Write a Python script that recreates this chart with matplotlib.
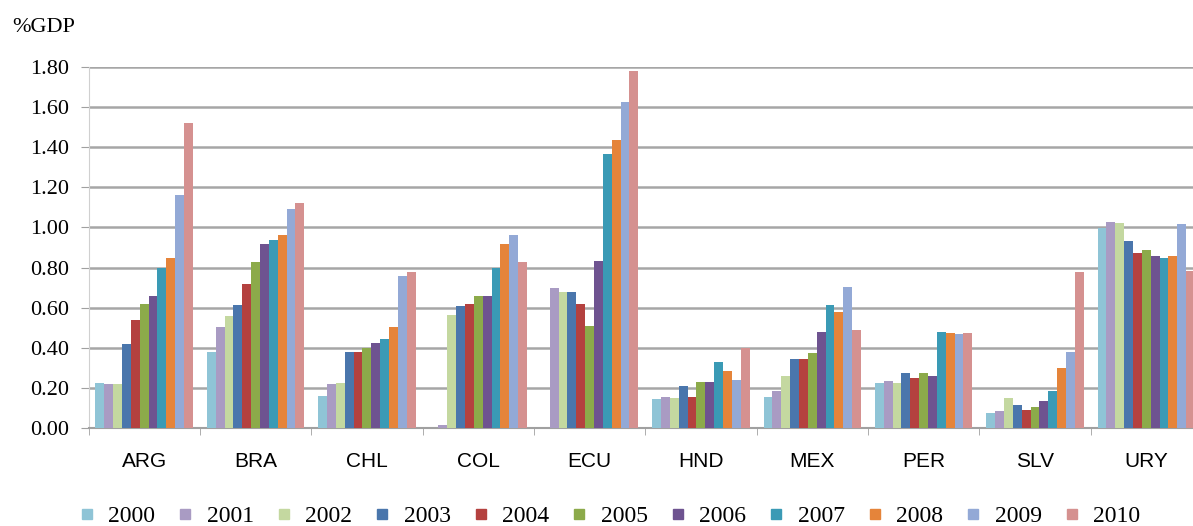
import numpy as np
import matplotlib.pyplot as plt
from matplotlib.lines import Line2D

countries = ["ARG", "BRA", "CHL", "COL", "ECU", "HND", "MEX", "PER", "SLV", "URY"]
years = ["2000", "2001", "2002", "2003", "2004", "2005", "2006", "2007", "2008", "2009", "2010"]

# %GDP per country, one list per year
y2000 = [0.225, 0.38, 0.16, 0.00, 0.00, 0.147, 0.155, 0.223, 0.077, 0.997]
y2001 = [0.217, 0.505, 0.218, 0.015, 0.696, 0.155, 0.185, 0.233, 0.087, 1.025]
y2002 = [0.217, 0.56, 0.222, 0.563, 0.68, 0.15, 0.258, 0.225, 0.152, 1.022]
y2003 = [0.42, 0.613, 0.38, 0.607, 0.68, 0.208, 0.342, 0.272, 0.117, 0.93]
y2004 = [0.54, 0.717, 0.38, 0.62, 0.62, 0.155, 0.342, 0.247, 0.092, 0.875]
y2005 = [0.62, 0.83, 0.40, 0.657, 0.508, 0.228, 0.372, 0.273, 0.107, 0.888]
y2006 = [0.66, 0.917, 0.423, 0.657, 0.834, 0.228, 0.48, 0.26, 0.135, 0.86]
y2007 = [0.80, 0.935, 0.442, 0.797, 1.365, 0.328, 0.613, 0.48, 0.183, 0.847]
y2008 = [0.85, 0.96, 0.505, 0.917, 1.435, 0.284, 0.58, 0.474, 0.30, 0.86]
y2009 = [1.16, 1.09, 0.76, 0.963, 1.623, 0.238, 0.705, 0.467, 0.38, 1.018]
y2010 = [1.52, 1.12, 0.78, 0.83, 1.778, 0.398, 0.487, 0.473, 0.78, 0.783]
series = [y2000, y2001, y2002, y2003, y2004, y2005, y2006, y2007, y2008, y2009, y2010]

colors = ["#8FC4D6", "#A99BC3", "#C4D8A0", "#4A76AC", "#B4413F", "#8CAA4A",
          "#6E5390", "#3A9AB5", "#E5843A", "#93A9D6", "#D59190"]

serif = "Liberation Serif"
sans = "Liberation Sans"

fig = plt.figure(figsize=(11.93, 5.26), dpi=100)
ax = fig.add_axes([88.5 / 1193, 1 - 428 / 526, (1202 - 88.5) / 1193, (428 - 67) / 526])

x = np.arange(len(countries))
w = 0.0795
for j, vals in enumerate(series):
    ax.bar(x + (j - 5) * w, vals, width=w, color=colors[j], zorder=3, linewidth=0)

ax.set_xlim(-0.5, len(countries) - 0.5)
ax.set_ylim(0, 1.80)
ax.set_yticks(np.arange(0, 1.81, 0.2))
ax.set_yticklabels(["%.2f" % v for v in np.arange(0, 1.81, 0.2)], fontfamily=serif, fontsize=16)
ax.yaxis.grid(True, color="#A6A6A6", linewidth=1.8, zorder=0)
ax.set_axisbelow(True)

ax.set_xticks(x)
ax.set_xticklabels(countries, fontfamily=sans, fontsize=15)
ax.set_xticks(np.arange(-0.5, len(countries)), minor=True)
ax.tick_params(axis="x", which="major", length=0, pad=17)
ax.tick_params(axis="x", which="minor", length=5, color="#A0A0A0", direction="out")
ax.tick_params(axis="y", length=6, color="#A0A0A0", pad=8)

for s in ["top", "right"]:
    ax.spines[s].set_visible(False)
ax.spines["left"].set_color("#D0D0D0")
ax.spines["bottom"].set_color("#A0A0A0")
ax.spines["bottom"].set_linewidth(1.5)

fig.text(12 / 1193, 1 - 28 / 526, "%GDP", fontfamily=serif, fontsize=16, va="center", ha="left")

handles = [Line2D([], [], linestyle="none", marker="s", markersize=7, color=c) for c in colors]
fig.legend(handles, years, loc="center", bbox_to_anchor=(610 / 1193, 1 - 516 / 526), ncol=11,
           frameon=False, prop={"family": serif, "size": 17}, handlelength=0.6,
           handletextpad=0.6, columnspacing=0.98, borderpad=0)

fig.savefig("out.png", dpi=100)
